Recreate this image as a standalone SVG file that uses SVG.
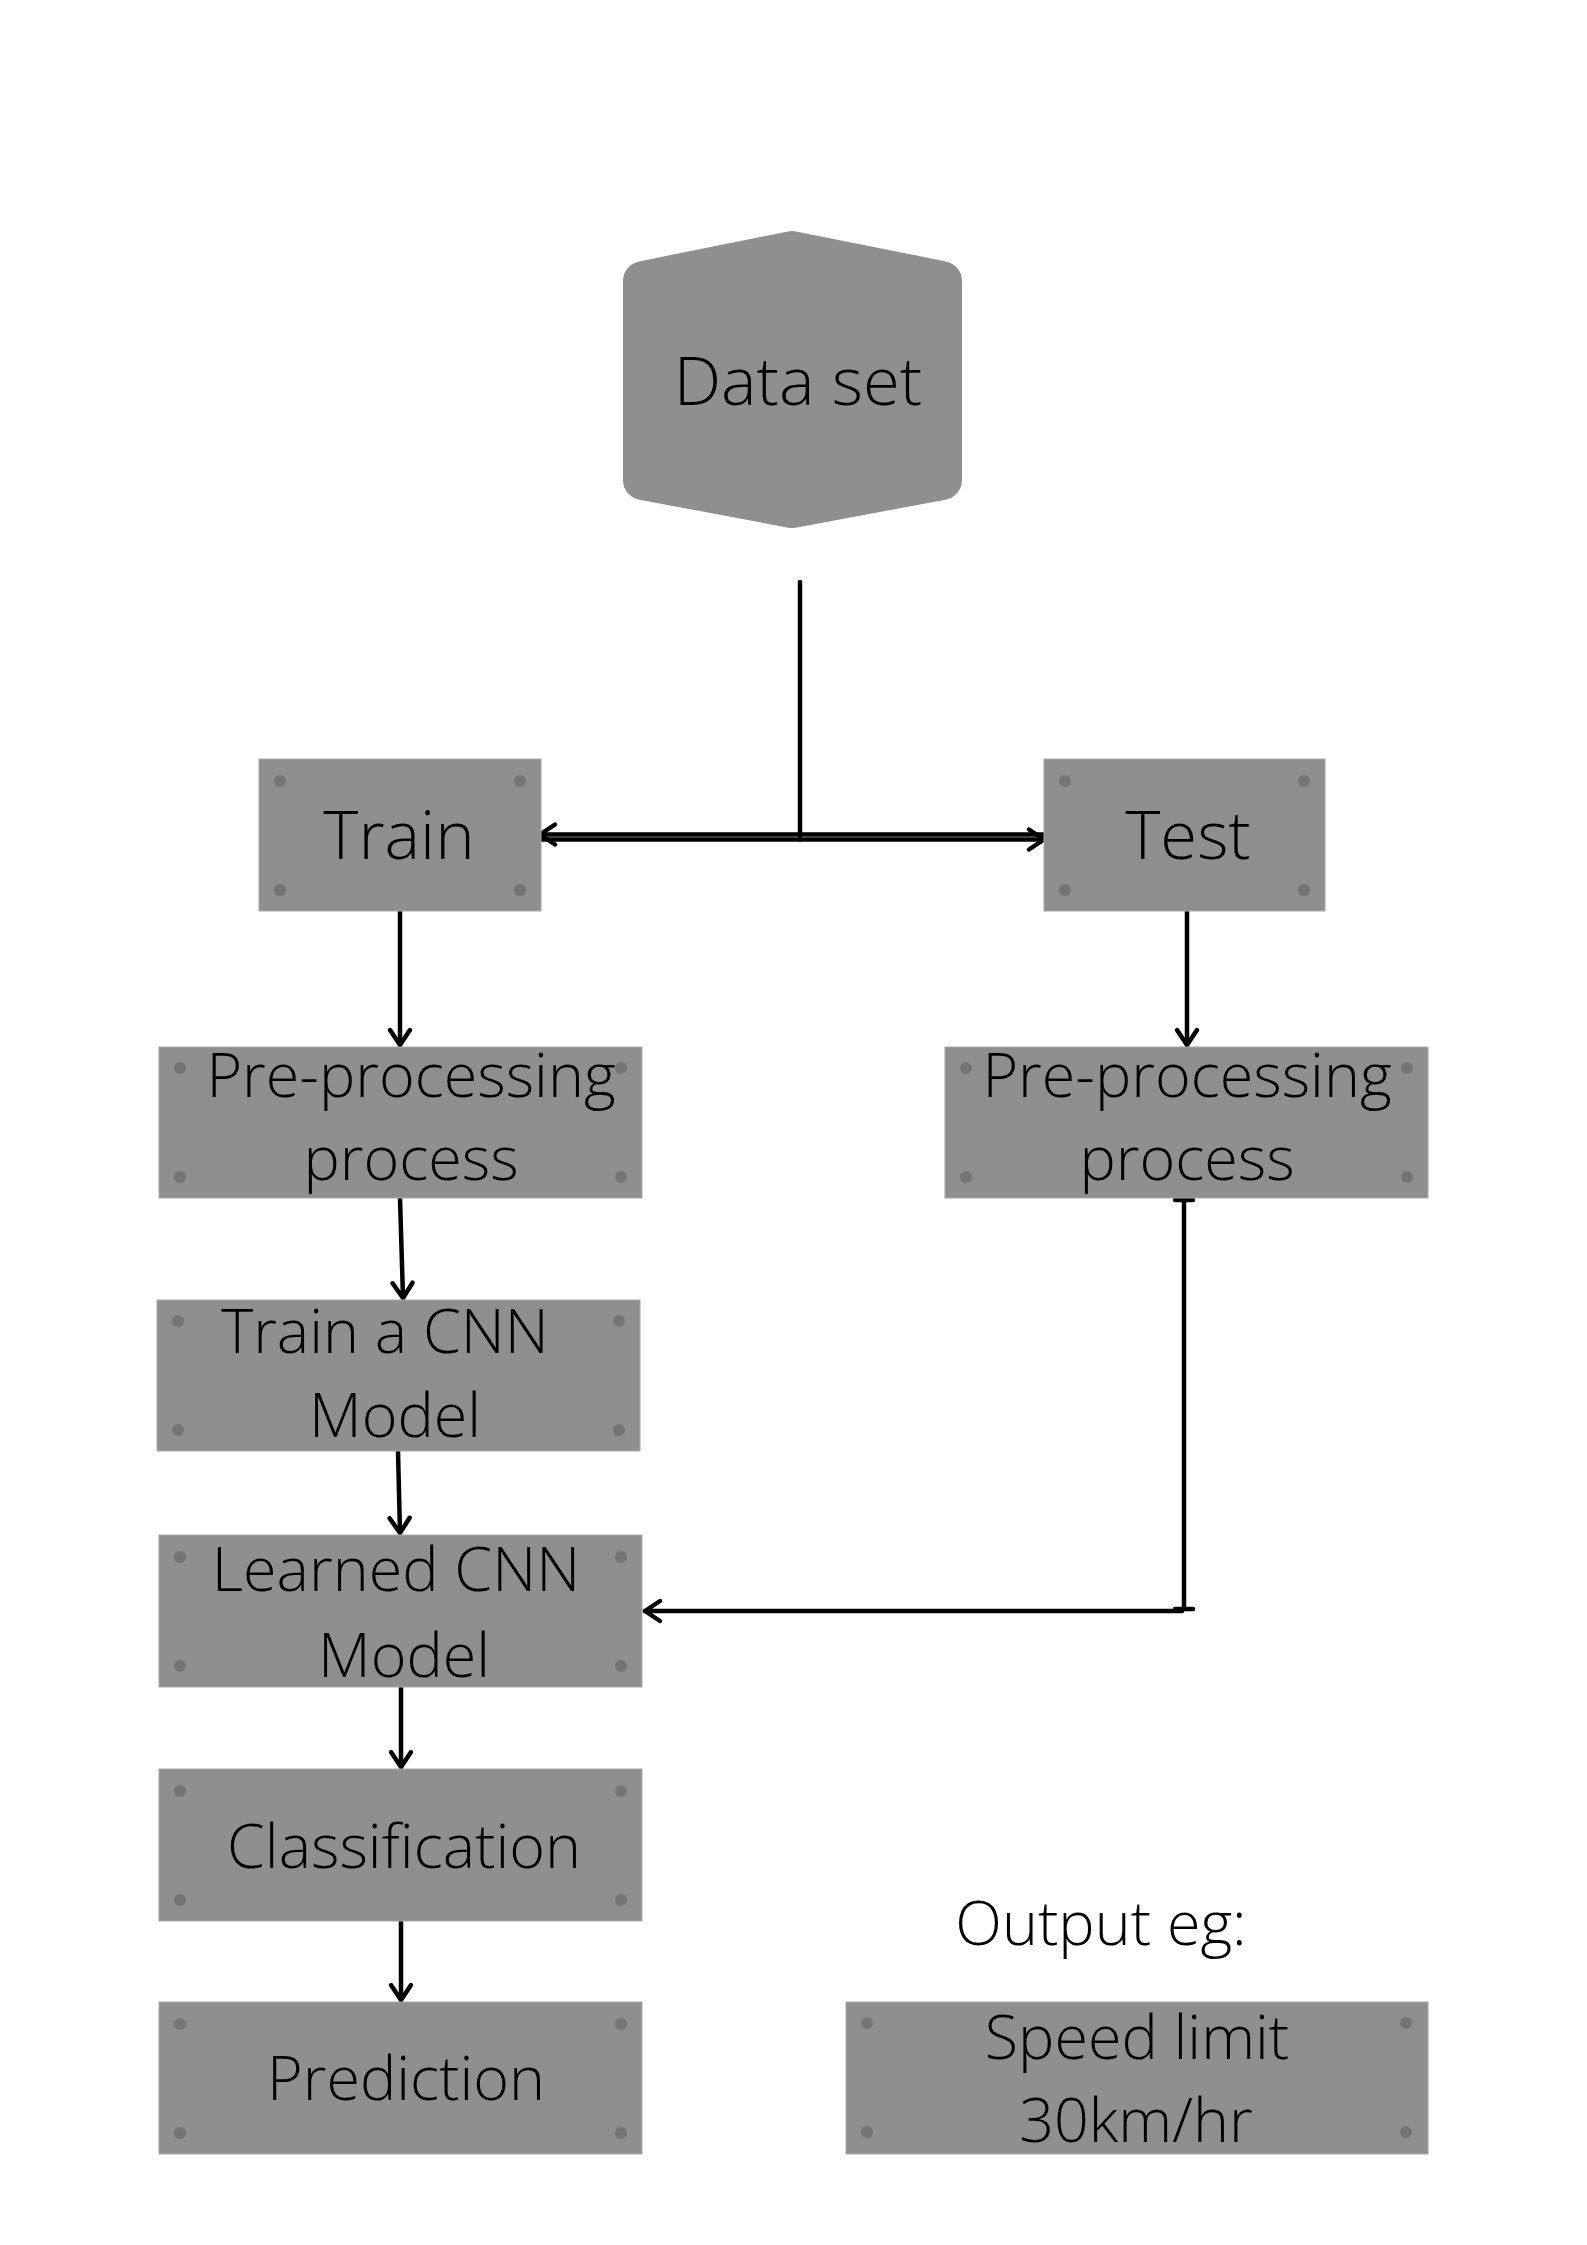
<svg xmlns="http://www.w3.org/2000/svg" width="1587" height="2245" viewBox="0 0 1587 2245">
<defs>
<style>
.box{fill:#8f8f8f;stroke:#a8a8a8;stroke-width:1}
.dot{fill:#747474}
.t{font-family:"Open Sans","Liberation Sans",sans-serif;font-weight:300;font-size:61px;fill:#000;text-anchor:middle}
.big{font-size:67px}
.c{stroke:#000;stroke-width:4.5;fill:none;stroke-linecap:round}
</style>
<marker id="arr" viewBox="-20 -20 40 40" markerWidth="40" markerHeight="40" markerUnits="userSpaceOnUse" refX="0" refY="0" orient="auto" overflow="visible">
<path d="M-15,-10 L0,0 L-15,10" fill="none" stroke="#000" stroke-width="4.5" stroke-linecap="round" stroke-linejoin="round"/>
</marker>
</defs>
<rect width="1587" height="2245" fill="#fff"/>

<g id="connectors">
<line class="c" x1="800" y1="582" x2="800" y2="836"/>
<line class="c" x1="800" y1="834.5" x2="540" y2="834.5" marker-end="url(#arr)"/>
<line class="c" x1="800" y1="839.5" x2="540" y2="839.5"/>
<line class="c" x1="800" y1="834.5" x2="1044" y2="834.5"/>
<line class="c" x1="800" y1="839.5" x2="1044" y2="839.5" marker-end="url(#arr)"/>
<line class="c" x1="400" y1="911" x2="400" y2="1045" marker-end="url(#arr)"/>
<line class="c" x1="1187" y1="911" x2="1187" y2="1045" marker-end="url(#arr)"/>
<line class="c" x1="400" y1="1198" x2="403" y2="1298" marker-end="url(#arr)"/>
<line class="c" x1="398" y1="1451" x2="400" y2="1533" marker-end="url(#arr)"/>
<line class="c" x1="401" y1="1688" x2="401" y2="1767" marker-end="url(#arr)"/>
<line class="c" x1="401" y1="1921" x2="401" y2="2000" marker-end="url(#arr)"/>
<line class="c" x1="1184" y1="1200" x2="1184" y2="1609"/>
<line class="c" x1="1175" y1="1200" x2="1193" y2="1200"/>
<line class="c" x1="1175" y1="1609" x2="1193" y2="1609"/>
<line class="c" x1="1182" y1="1611" x2="645" y2="1611" marker-end="url(#arr)"/>
</g>

<g id="dataset">
<polygon points="792,251 942,281 942,480 792,508 643,480 643,281" fill="#8f8f8f" stroke="#8f8f8f" stroke-width="40" stroke-linejoin="round"/>
<text class="t big" x="798" y="405">Data set</text>
</g>

<g id="train">
<rect class="box" x="259" y="759" width="282" height="152"/>
<circle class="dot" cx="280" cy="781" r="6"/><circle class="dot" cx="520" cy="781" r="6"/>
<circle class="dot" cx="280" cy="890" r="6"/><circle class="dot" cx="520" cy="890" r="6"/>
<text class="t big" x="399" y="859">Train</text>
</g>

<g id="test">
<rect class="box" x="1044" y="759" width="281" height="152"/>
<circle class="dot" cx="1065" cy="781" r="6"/><circle class="dot" cx="1304" cy="781" r="6"/>
<circle class="dot" cx="1065" cy="890" r="6"/><circle class="dot" cx="1304" cy="890" r="6"/>
<text class="t big" x="1188" y="859">Test</text>
</g>

<g id="preprocess-train">
<rect class="box" x="159" y="1047" width="483" height="151"/>
<circle class="dot" cx="180" cy="1068" r="6"/><circle class="dot" cx="621" cy="1068" r="6"/>
<circle class="dot" cx="180" cy="1177" r="6"/><circle class="dot" cx="621" cy="1177" r="6"/>
<text class="t" x="411" y="1097">Pre-processing</text>
<text class="t" x="411" y="1180">process</text>
</g>

<g id="preprocess-test">
<rect class="box" x="945" y="1047" width="483" height="151"/>
<circle class="dot" cx="966" cy="1068" r="6"/><circle class="dot" cx="1407" cy="1068" r="6"/>
<circle class="dot" cx="966" cy="1177" r="6"/><circle class="dot" cx="1407" cy="1177" r="6"/>
<text class="t" x="1187" y="1097">Pre-processing</text>
<text class="t" x="1187" y="1180">process</text>
</g>

<g id="train-cnn">
<rect class="box" x="157" y="1300" width="483" height="151"/>
<circle class="dot" cx="178" cy="1321" r="6"/><circle class="dot" cx="619" cy="1321" r="6"/>
<circle class="dot" cx="178" cy="1430" r="6"/><circle class="dot" cx="619" cy="1430" r="6"/>
<text class="t" x="385" y="1353">Train a CNN</text>
<text class="t" x="395" y="1437">Model</text>
</g>

<g id="learned-cnn">
<rect class="box" x="159" y="1535" width="483" height="152"/>
<circle class="dot" cx="180" cy="1557" r="6"/><circle class="dot" cx="621" cy="1557" r="6"/>
<circle class="dot" cx="180" cy="1666" r="6"/><circle class="dot" cx="621" cy="1666" r="6"/>
<text class="t" x="396" y="1591">Learned CNN</text>
<text class="t" x="404" y="1677">Model</text>
</g>

<g id="classification">
<rect class="box" x="159" y="1769" width="483" height="152"/>
<circle class="dot" cx="180" cy="1791" r="6"/><circle class="dot" cx="621" cy="1791" r="6"/>
<circle class="dot" cx="180" cy="1900" r="6"/><circle class="dot" cx="621" cy="1900" r="6"/>
<text class="t" x="404" y="1868">Classification</text>
</g>

<g id="prediction">
<rect class="box" x="159" y="2002" width="483" height="152"/>
<circle class="dot" cx="180" cy="2024" r="6"/><circle class="dot" cx="621" cy="2024" r="6"/>
<circle class="dot" cx="180" cy="2133" r="6"/><circle class="dot" cx="621" cy="2133" r="6"/>
<text class="t" x="406" y="2100">Prediction</text>
</g>

<g id="output-label">
<text class="t" x="1101" y="1945">Output eg:</text>
</g>

<g id="output-example">
<rect class="box" x="846" y="2002" width="582" height="152"/>
<circle class="dot" cx="867" cy="2023" r="6"/><circle class="dot" cx="1406" cy="2023" r="6"/>
<circle class="dot" cx="867" cy="2132" r="6"/><circle class="dot" cx="1406" cy="2132" r="6"/>
<text class="t" x="1137" y="2059">Speed limit</text>
<text class="t" x="1136" y="2142">30km/hr</text>
</g>
</svg>
